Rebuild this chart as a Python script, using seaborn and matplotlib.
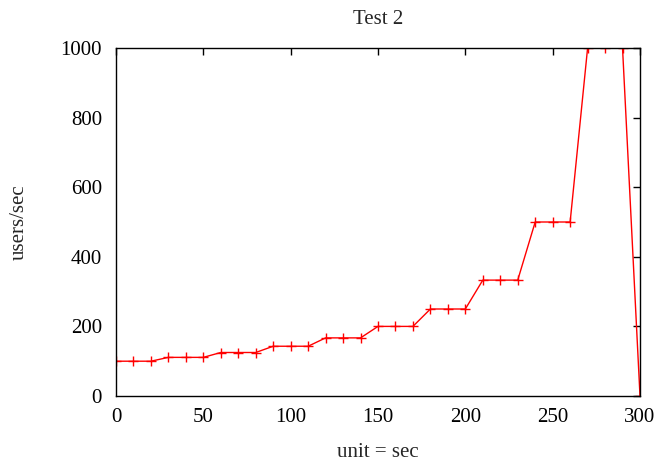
import numpy as np
import matplotlib.pyplot as plt
import seaborn as sns

# ── Data ─────────────────────────────────────────────────────────────────
seconds = [0, 10, 20, 30, 40, 50, 60, 70, 80, 90, 100, 110, 120, 130, 140,
           150, 160, 170, 180, 190, 200, 210, 220, 230, 240, 250, 260, 270,
           280, 290, 300]
users_per_sec = [100, 100, 100, 111, 111, 111, 125, 125, 125, 143, 143, 143,
                 167, 167, 167, 200, 200, 200, 250, 250, 250, 333, 333, 333,
                 500, 500, 500, 1000, 1000, 1000, 0]
x_ticks = [0, 50, 100, 150, 200, 250, 300]
y_ticks = [0, 200, 400, 600, 800, 1000]

sns.set_style('white')
plt.rcParams['font.family'] = ['Liberation Serif', 'DejaVu Serif']

fig = plt.figure(figsize=(6.61, 4.65), dpi=100)
ax = fig.add_axes([116 / 661, 1 - 396 / 465, 524 / 661, 348 / 465])

sns.lineplot(x=seconds, y=users_per_sec, ax=ax, color='red', linewidth=1,
             marker='+', markersize=7, markeredgewidth=1, markeredgecolor='red')

ax.set_xlim(0, 300)
ax.set_ylim(0, 1000)
ax.set_xticks(x_ticks)
ax.set_yticks(y_ticks)
ax.tick_params(direction='in', length=5, width=1, top=True, right=True,
               labelsize=15, colors='black')
ax.tick_params(axis='x', pad=9)
ax.tick_params(axis='y', pad=10)
for s in ax.spines.values():
    s.set_color('black')
    s.set_linewidth(1)

ax.set_title('Test 2', fontsize=15, pad=17)
ax.set_xlabel('unit = sec', fontsize=15, labelpad=11)
ax.set_ylabel('users/sec', fontsize=15, labelpad=23)

fig.savefig('out.png', dpi=100)
